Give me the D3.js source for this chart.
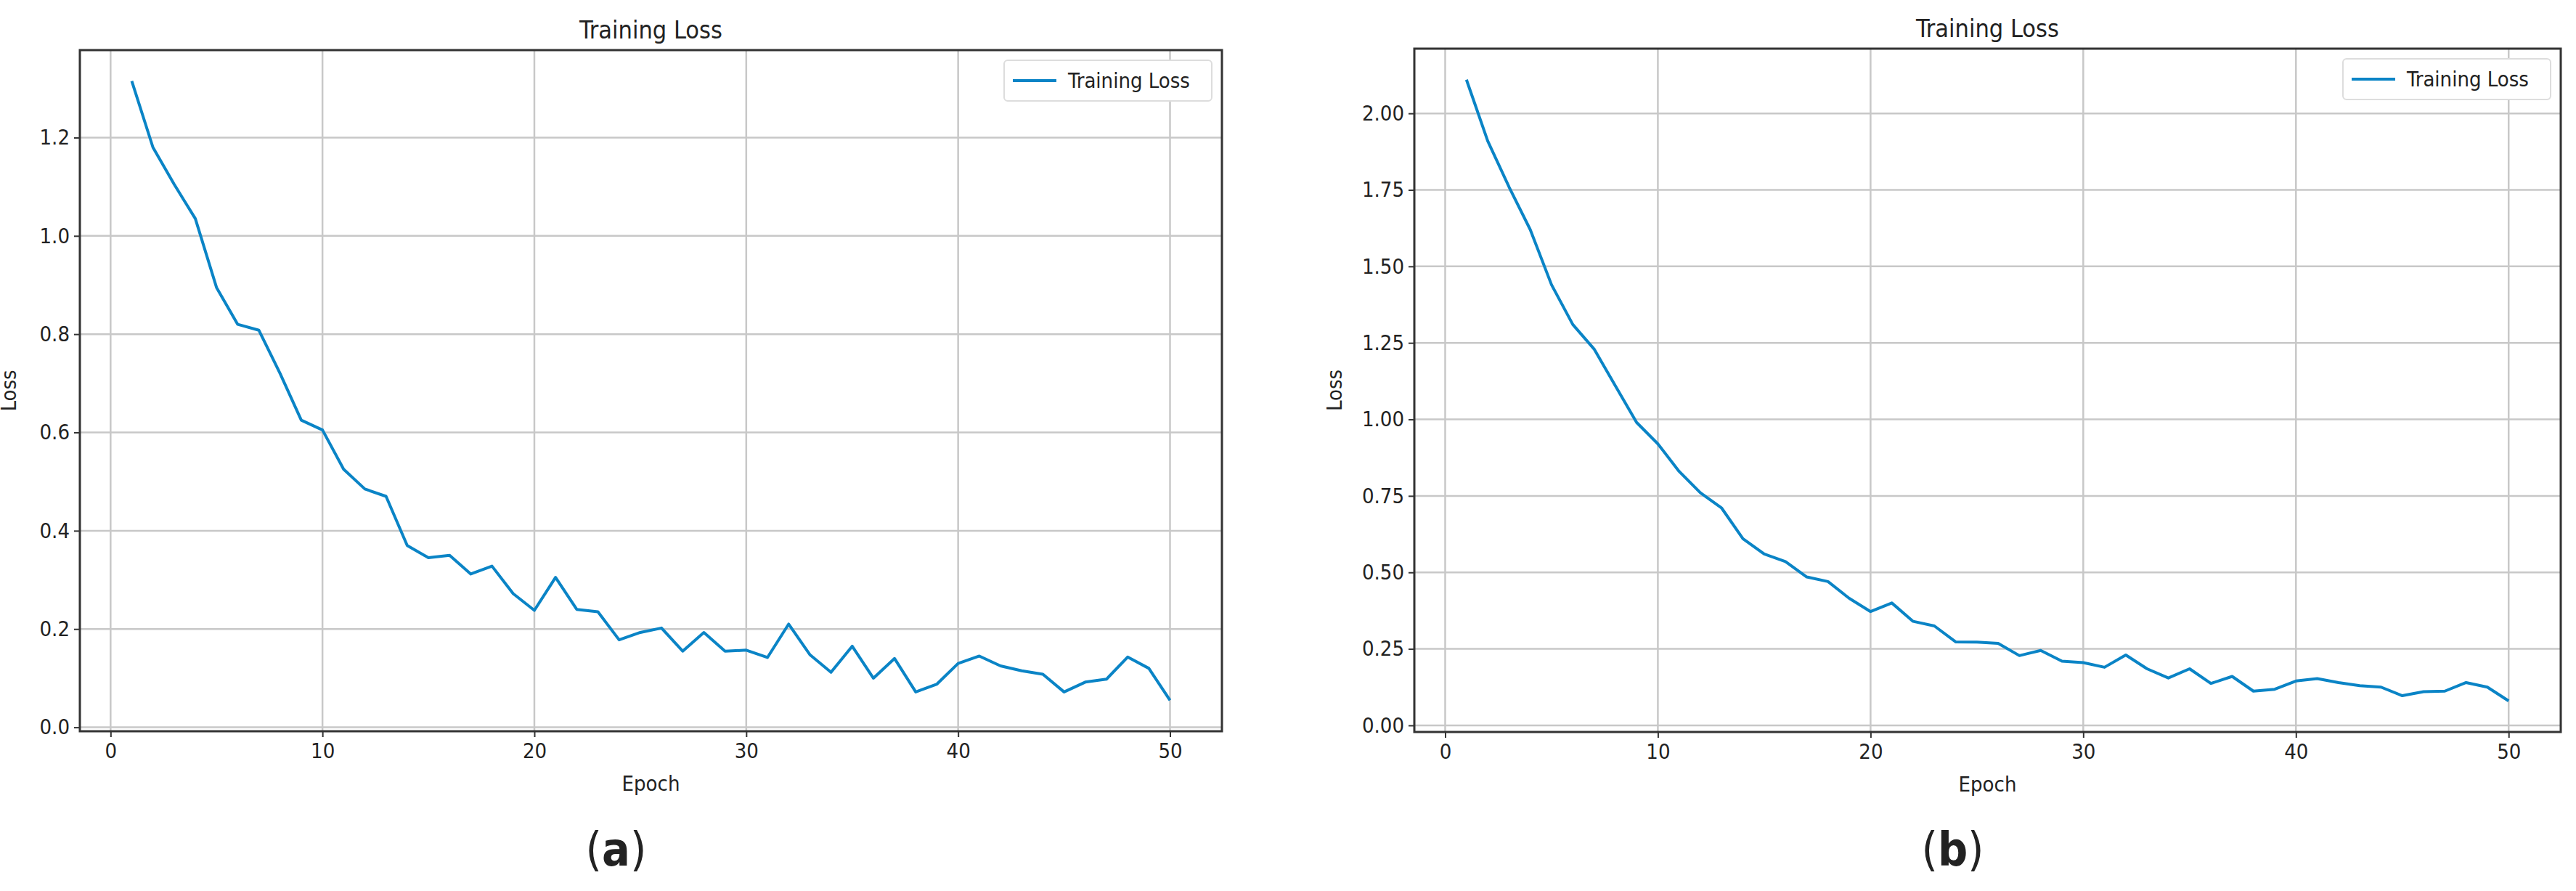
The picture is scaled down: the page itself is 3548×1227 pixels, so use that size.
<!DOCTYPE html>
<html>
<head>
<meta charset="utf-8">
<script src="https://cdn.jsdelivr.net/npm/d3@7"></script>
<style>
body { margin: 0; background: #fff; }
svg text { font-family: "DejaVu Sans Condensed", "DejaVu Sans", sans-serif; fill: #222; }
</style>
</head>
<body>
<svg id="chart" width="3548" height="1227"></svg>
<script>
// epochs and losses
let epochs = d3.range(1, 51);
let lossA = [1.315, 1.18, 1.105, 1.035, 0.895, 0.82, 0.808, 0.72, 0.625, 0.605,
    0.525, 0.485, 0.47, 0.37, 0.345, 0.35, 0.312, 0.328, 0.272, 0.238,
    0.305, 0.24, 0.235, 0.178, 0.193, 0.202, 0.155, 0.193, 0.155, 0.157,
    0.142, 0.21, 0.148, 0.112, 0.165, 0.1, 0.14, 0.072, 0.088, 0.13,
    0.145, 0.125, 0.115, 0.108, 0.072, 0.092, 0.098, 0.143, 0.12, 0.055];
let lossB = [2.11, 1.91, 1.76, 1.62, 1.44, 1.31, 1.23, 1.11, 0.99, 0.92,
    0.83, 0.76, 0.71, 0.61, 0.56, 0.535, 0.485, 0.47, 0.415, 0.372,
    0.40, 0.34, 0.325, 0.273, 0.272, 0.268, 0.228, 0.245, 0.21, 0.205,
    0.19, 0.23, 0.185, 0.155, 0.185, 0.137, 0.16, 0.112, 0.118, 0.145,
    0.153, 0.14, 0.13, 0.125, 0.097, 0.11, 0.112, 0.14, 0.125, 0.08];
let xTicks = [0, 10, 20, 30, 40, 50];
let yTicksA = [0.0, 0.2, 0.4, 0.6, 0.8, 1.0, 1.2];
let yTicksB = [0.0, 0.25, 0.5, 0.75, 1.0, 1.25, 1.5, 1.75, 2.0];

let lineColor = '#0a84c6';
let svg = d3.select('#chart');

function panel(cfg) {
    let g = svg.append('g');
    let x = d3.scaleLinear().domain([-1.45, 52.45]).range([cfg.left, cfg.right]);
    let lo = d3.min(cfg.values), hi = d3.max(cfg.values), m = (hi - lo) * 0.05;
    let y = d3.scaleLinear().domain([lo - m, hi + m]).range([cfg.bottom, cfg.top]);

    // grid
    g.append('g').selectAll('line').data(xTicks).enter().append('line')
        .attr('x1', d => x(d)).attr('x2', d => x(d))
        .attr('y1', cfg.top).attr('y2', cfg.bottom)
        .attr('stroke', '#c8c8c8').attr('stroke-width', 2.5);
    g.append('g').selectAll('line').data(cfg.yTicks).enter().append('line')
        .attr('x1', cfg.left).attr('x2', cfg.right)
        .attr('y1', d => y(d)).attr('y2', d => y(d))
        .attr('stroke', '#c8c8c8').attr('stroke-width', 2.5);

    // axes
    let ax = g.append('g').attr('transform', `translate(0,${cfg.bottom})`)
        .call(d3.axisBottom(x).tickValues(xTicks).tickFormat(d3.format('d')).tickSize(8).tickPadding(8));
    let ay = g.append('g').attr('transform', `translate(${cfg.left},0)`)
        .call(d3.axisLeft(y).tickValues(cfg.yTicks).tickFormat(d3.format(cfg.fmt)).tickSize(8).tickPadding(6));
    [ax, ay].forEach(a => {
        a.select('.domain').remove();
        a.selectAll('text').attr('font-size', 29).attr('font-family', '"DejaVu Sans Condensed", "DejaVu Sans", sans-serif').attr('fill', '#222');
        a.selectAll('line').attr('stroke', '#333').attr('stroke-width', 2);
    });

    g.append('rect')
        .attr('x', cfg.left).attr('y', cfg.top)
        .attr('width', cfg.right - cfg.left).attr('height', cfg.bottom - cfg.top)
        .attr('fill', 'none').attr('stroke', '#333').attr('stroke-width', 3);

    // series
    g.append('path')
        .datum(cfg.values)
        .attr('fill', 'none').attr('stroke', lineColor).attr('stroke-width', 4)
        .attr('stroke-linejoin', 'round')
        .attr('d', d3.line().x((d, i) => x(epochs[i])).y(d => y(d)));

    let cx = (cfg.left + cfg.right) / 2;
    g.append('text').attr('x', cx).attr('y', cfg.top - 16)
        .attr('text-anchor', 'middle').attr('font-size', 34).text('Training Loss');
    g.append('text').attr('x', cx).attr('y', cfg.bottom + 82)
        .attr('text-anchor', 'middle').attr('font-size', 29).text('Epoch');
    g.append('text')
        .attr('transform', `translate(${cfg.left - cfg.ylabOff},${(cfg.top + cfg.bottom) / 2}) rotate(-90)`)
        .attr('text-anchor', 'middle').attr('font-size', 29).text('Loss');
    g.append('text').attr('x', cx - 48).attr('y', 1192)
        .attr('text-anchor', 'middle').attr('font-size', 64)
        .attr('font-family', '"Liberation Serif", serif')
        .html('(<tspan font-weight="bold">' + cfg.tag + '</tspan>)');

    // legend
    let lw = 286, lh = 56;
    let lx = cfg.right - lw - 14, ly = cfg.top + 14;
    g.append('rect').attr('x', lx).attr('y', ly).attr('width', lw).attr('height', lh)
        .attr('rx', 5).attr('fill', '#fff').attr('stroke', '#ddd').attr('stroke-width', 2);
    g.append('line').attr('x1', lx + 12).attr('x2', lx + 72)
        .attr('y1', ly + lh / 2).attr('y2', ly + lh / 2)
        .attr('stroke', lineColor).attr('stroke-width', 4);
    g.append('text').attr('x', lx + 88).attr('y', ly + lh / 2 + 10)
        .attr('font-size', 29).text('Training Loss');
}

panel({ values: lossA, yTicks: yTicksA, fmt: '.1f', tag: 'a',
    left: 110, right: 1683, top: 69, bottom: 1007, ylabOff: 88 });
panel({ values: lossB, yTicks: yTicksB, fmt: '.2f', tag: 'b',
    left: 1948, right: 3527, top: 67, bottom: 1008, ylabOff: 100 });
</script>
</body>
</html>
